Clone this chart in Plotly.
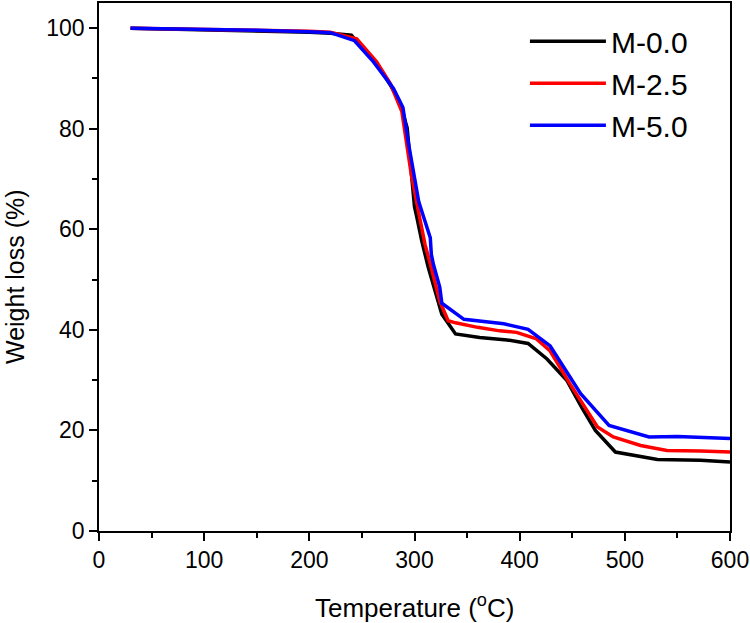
import plotly.graph_objects as go

series_names = ["M-0.0", "M-2.5", "M-5.0"]
series_colors = ["#000000", "#FF0000", "#0000FF"]

temp_m00 = [30, 100, 150, 200, 220, 240, 251, 264, 277, 286, 293, 298, 300, 302, 307, 313, 320, 326,
            339, 362, 388, 408, 426, 445, 459, 472, 491, 508, 531, 572, 600]
wt_m00 = [100, 99.7, 99.5, 99.2, 99.0, 98.6, 95.9, 93.0, 88.7, 85.3, 80.2, 68.0, 64.5, 62.6, 57.6, 52.5, 47.7, 43.1,
          39.2, 38.5, 38.0, 37.3, 34.2, 29.9, 24.6, 20.0, 15.7, 15.0, 14.2, 14.05, 13.7]

temp_m25 = [30, 100, 150, 200, 220, 245, 264, 277, 288, 294, 297, 305, 310, 316, 324, 332, 339, 360,
            381, 397, 416, 429, 448, 474, 489, 515, 540, 572, 600]
wt_m25 = [100, 99.8, 99.6, 99.4, 99.2, 97.9, 93.3, 89.0, 83.4, 75.0, 70.8, 62.2, 57.0, 52.3, 45.7, 41.8, 41.4, 40.5,
          39.8, 39.5, 38.2, 35.8, 29.2, 20.7, 18.7, 17.0, 16.0, 15.9, 15.7]

temp_m50 = [30, 100, 150, 200, 220, 243, 261, 280, 289, 294, 300, 304, 308, 315, 316, 318, 324, 326,
            347, 385, 408, 429, 458, 485, 523, 550, 600]
wt_m50 = [100, 99.8, 99.6, 99.3, 99.1, 97.5, 93.3, 88.0, 84.2, 77.4, 70.2, 65.5, 62.9, 58.3, 55.0, 53.0, 48.5, 45.3,
          42.1, 41.2, 40.1, 36.8, 27.3, 21.0, 18.7, 18.8, 18.4]

x_ticks = [0, 100, 200, 300, 400, 500, 600]
y_ticks = [0, 20, 40, 60, 80, 100]

temps = [temp_m00, temp_m25, temp_m50]
wts = [wt_m00, wt_m25, wt_m50]

FONT = "Liberation Sans, Arial, sans-serif"

fig = go.Figure()
for name, color, t, w in zip(series_names, series_colors, temps, wts):
    fig.add_trace(go.Scatter(x=t, y=w, mode="lines", name=name,
                             line=dict(color=color, width=3.5)))

axis_common = dict(showline=True, linecolor="black", linewidth=1.5, mirror=True,
                   ticks="outside", ticklen=8, tickwidth=1.5, tickcolor="black",
                   showgrid=False, zeroline=False,
                   tickfont=dict(family=FONT, size=23, color="black"))

fig.update_xaxes(range=[0, 600], tickvals=x_ticks, ticktext=[str(v) for v in x_ticks],
                 minor=dict(ticks="outside", ticklen=5, tickwidth=1.5, tickcolor="black", dtick=50, tick0=0),
                 **axis_common)
fig.update_yaxes(range=[0, 105], tickvals=y_ticks, ticktext=[str(v) for v in y_ticks],
                 minor=dict(ticks="outside", ticklen=5, tickwidth=1.5, tickcolor="black", dtick=10, tick0=0),
                 **axis_common)

fig.add_annotation(text="Temperature (<sup>o</sup>C)", xref="paper", yref="paper",
                   x=0.5, y=0, yshift=-75, showarrow=False, yanchor="middle",
                   font=dict(family=FONT, size=26, color="black"))
fig.add_annotation(text="Weight loss (%)", xref="paper", yref="paper", textangle=-90,
                   x=0, xshift=-84, y=0.5, yshift=-10, showarrow=False, xanchor="center",
                   font=dict(family=FONT, size=25, color="black"))

fig.update_layout(
    width=750, height=623,
    margin=dict(l=99, r=20, t=1, b=92),
    paper_bgcolor="white", plot_bgcolor="white",
    showlegend=True,
    legend=dict(x=0.675, y=0.977, xanchor="left", yanchor="top",
                bgcolor="rgba(0,0,0,0)", itemwidth=76, tracegroupgap=0,
                font=dict(family=FONT, size=30, color="black")),
)

fig.write_html("out.html", config={"displayModeBar": False},
               post_script="document.body.style.margin='0';")
